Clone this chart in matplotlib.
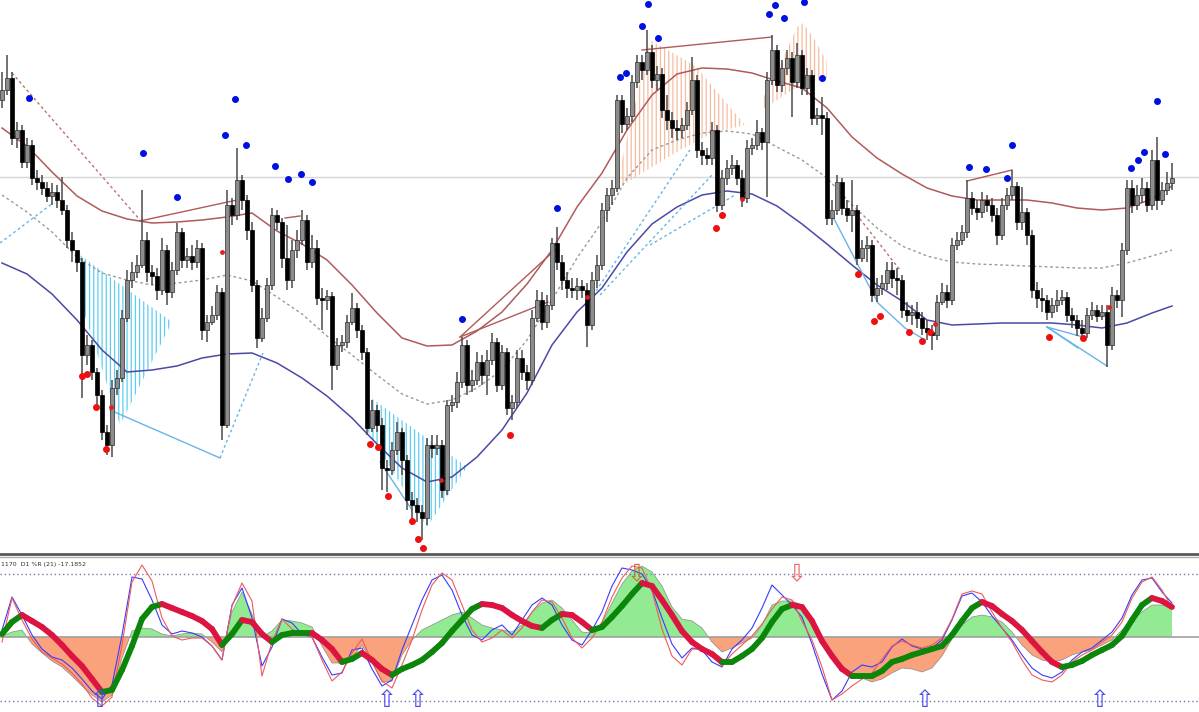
import numpy as np
import matplotlib.pyplot as plt
from matplotlib.collections import LineCollection

plt.rcParams['hatch.linewidth'] = 0.9

# ---- daily candles (price in points) ----
first_open = 500
closes = [510, 522, 462, 470, 438, 455, 422, 418, 412, 404,
          408, 400, 390, 360, 350, 338, 245, 255, 228, 205,
          168, 155, 212, 222, 282, 320, 328, 335, 360, 328,
          324, 310, 350, 308, 330, 368, 340, 344, 338, 352,
          270, 278, 285, 308, 175, 395, 385, 420, 400, 370,
          315, 262, 282, 315, 385, 378, 342, 320, 350, 360,
          380, 338, 352, 302, 300, 304, 235, 255, 258, 278,
          292, 270, 248, 172, 190, 175, 132, 130, 150, 168,
          140, 100, 95, 88, 82, 155, 152, 155, 110, 195,
          198, 218, 255, 215, 220, 238, 225, 240, 258, 215,
          248, 192, 198, 242, 228, 220, 282, 300, 278, 295,
          357, 338, 320, 312, 310, 314, 310, 275, 320, 335,
          390, 405, 412, 500, 476, 484, 518, 538, 530, 548,
          520, 526, 490, 480, 472, 470, 475, 490, 520, 450,
          445, 442, 470, 395, 422, 432, 435, 422, 402, 452,
          455, 468, 458, 520, 550, 515, 532, 542, 518, 545,
          512, 525, 482, 485, 482, 382, 390, 418, 392, 385,
          390, 342, 352, 355, 305, 312, 317, 330, 322, 320,
          290, 285, 288, 282, 272, 268, 265, 298, 308, 300,
          355, 360, 368, 402, 392, 388, 400, 395, 385, 365,
          395, 405, 414, 378, 388, 365, 310, 302, 300, 288,
          295, 300, 303, 285, 280, 272, 267, 285, 290, 284,
          288, 255, 305, 300, 350, 412, 395, 405, 412, 395,
          440, 400, 410, 417, 422]
highs = [528, 545, 528, 478, 475, 462, 460, 430, 425, 418,
         417, 415, 423, 395, 368, 350, 342, 265, 260, 232,
         210, 175, 220, 230, 290, 330, 338, 345, 410, 368,
         335, 332, 362, 355, 338, 377, 372, 352, 355, 360,
         357, 285, 294, 315, 312, 410, 402, 452, 425, 405,
         378, 320, 292, 322, 392, 390, 382, 375, 360, 370,
         390, 385, 365, 360, 312, 310, 308, 262, 265, 285,
         307, 297, 275, 252, 200, 195, 182, 140, 158, 178,
         172, 145, 108, 102, 95, 162, 165, 165, 160, 200,
         205, 228, 263, 260, 230, 248, 245, 250, 267, 262,
         255, 252, 205, 250, 250, 235, 290, 310, 308, 305,
         362, 373, 345, 328, 322, 322, 320, 317, 328, 345,
         397, 412, 420, 505, 505, 492, 525, 545, 545, 570,
         555, 534, 532, 505, 488, 480, 482, 498, 543, 525,
         458, 452, 478, 475, 430, 440, 445, 440, 430, 460,
         462, 480, 472, 528, 565, 555, 540, 550, 548, 557,
         550, 532, 530, 492, 503, 488, 400, 425, 422, 400,
         420, 395, 360, 364, 360, 322, 325, 338, 338, 332,
         325, 298, 295, 298, 288, 280, 275, 305, 317, 315,
         362, 368, 375, 420, 408, 400, 408, 405, 402, 392,
         402, 412, 430, 418, 413, 392, 370, 318, 312, 305,
         302, 310, 310, 308, 292, 285, 280, 292, 298, 295,
         295, 295, 313, 310, 357, 420, 420, 415, 422, 418,
         450, 463, 418, 428, 437]
lows = [492, 505, 455, 452, 432, 432, 415, 410, 405, 398,
        395, 392, 385, 352, 338, 328, 202, 235, 220, 195,
        160, 145, 143, 205, 218, 278, 312, 322, 332, 318,
        315, 300, 305, 295, 302, 325, 332, 332, 330, 332,
        260, 258, 275, 280, 160, 172, 375, 380, 390, 360,
        308, 252, 258, 278, 310, 370, 332, 310, 312, 342,
        355, 330, 332, 295, 270, 290, 210, 230, 248, 252,
        275, 262, 240, 165, 168, 168, 110, 108, 125, 145,
        125, 90, 75, 78, 60, 75, 142, 145, 102, 105,
        188, 192, 212, 205, 208, 215, 215, 205, 235, 208,
        210, 185, 180, 192, 220, 210, 215, 278, 270, 272,
        290, 330, 310, 302, 302, 300, 302, 253, 270, 312,
        330, 378, 395, 408, 467, 470, 478, 512, 520, 525,
        512, 510, 482, 470, 462, 460, 462, 470, 485, 442,
        435, 435, 435, 388, 390, 415, 425, 415, 393, 397,
        445, 450, 450, 403, 515, 508, 508, 525, 483, 512,
        505, 505, 475, 475, 465, 375, 375, 385, 385, 378,
        368, 335, 338, 338, 298, 298, 305, 310, 312, 305,
        282, 278, 275, 272, 265, 260, 250, 260, 295, 292,
        295, 350, 355, 362, 385, 380, 382, 388, 378, 355,
        360, 390, 400, 370, 370, 355, 302, 292, 288, 280,
        282, 288, 295, 278, 272, 264, 260, 262, 280, 278,
        280, 233, 250, 292, 283, 345, 387, 390, 397, 388,
        390, 390, 395, 405, 410]

# ---- channel (sampled every 5 bars, last bar added) ----
band_upper = [472, 454, 428, 404, 389, 381, 377, 378, 380, 383, 387, 369,
              356, 340, 315, 287, 262, 254, 255, 269, 288, 316, 350, 393,
              427, 470, 505, 526, 532, 531, 527, 519, 512, 492, 463, 442,
              426, 412, 404, 400, 400, 400, 397, 392, 390, 392, 401, 414]
band_middle = [405, 388, 368, 343, 327, 320, 315, 317, 320, 325, 319, 303,
               286, 264, 245, 225, 206, 196, 200, 212, 230, 260, 300, 342,
               378, 422, 450, 460, 467, 469, 466, 453, 440, 422, 395, 372,
               354, 344, 338, 336, 335, 334, 333, 332, 332, 337, 344, 350]
band_lower = [337, 326, 306, 280, 250, 228, 230, 234, 242, 246, 247, 237,
              222, 204, 182, 156, 132, 118, 123, 143, 170, 207, 255, 288,
              312, 348, 376, 393, 405, 409, 406, 394, 376, 356, 335, 315,
              299, 280, 275, 276, 277, 277, 277, 275, 272, 277, 287, 294]
ref_level = 423

# ---- fractal dots ----
top_dot_idx = [5.4, 28.2, 35, 44.6, 46.6, 48.8, 54.6, 57.2, 59.8, 62,
               92, 111, 123.6, 124.8, 128, 129.2, 131.2, 153.4, 154.6, 156.4,
               160.4, 164, 193.4, 196.8, 201, 202, 225.8, 227.2, 228.4, 231, 232.6]
top_dot_price = [502, 447, 403, 465, 501, 455, 434, 421, 426, 418,
                 281, 392, 523, 527, 574, 596, 562, 586, 595, 582,
                 598, 522, 433, 431, 422, 455, 432, 440, 448, 499, 446]
bot_dot_idx = [16, 17, 18.8, 20.8, 73.6, 75.2, 77.2, 82, 83.2, 84.2, 101.6,
               142.8, 144, 171.2, 174.4, 175.6, 181.4, 184, 185.6, 209.4, 216.2]
bot_dot_price = [224, 226, 193, 151, 156, 153, 104, 79, 61, 52, 165,
                 372, 385, 326, 279, 284, 268, 259, 268, 263, 262]
mark_idx = [21.8, 44, 87.8, 117, 148, 186.6, 221.4]
mark_price = [193, 348, 120, 303, 401, 276, 293]

# ---- drawn objects ----
red_lines = [[(27.6, 379), (47, 400)], [(56.6, 382), (59.6, 384)],
             [(91.6, 263), (110.6, 350)], [(91.6, 263), (109.2, 298)],
             [(128, 550), (154, 563)], [(193, 419), (202, 430)]]
red_dotted = [[(2, 527), (27.6, 380)], [(170.2, 390), (179.6, 330)]]
blue_lines = [[(21.6, 190), (43.6, 142)],
              [(166, 385), (171, 337), (175.2, 297), (180.6, 272), (184.6, 260)],
              [(209, 273), (216.2, 263)], [(209, 273), (215.2, 252)],
              [(209, 273), (221, 234)], [(75.6, 138), (82, 90)]]
blue_dotted = [[(-0.4, 357), (10.2, 397)], [(117.6, 300), (137.6, 450)],
               [(119.6, 305), (142, 425)], [(129.6, 355), (146.6, 405)],
               [(43.6, 142), (52.2, 247)]]
cyan_zones = [[(15.6, 345), (34, 278), (23.6, 175), (15.6, 300)],
              [(73, 205), (93, 133), (85, 73), (73, 170)]]
salmon_zones = [[(122.6, 410), (129.6, 560), (135.6, 543), (139, 533), (142.2, 513),
                 (145.6, 493), (148.6, 475), (142.2, 467), (135.6, 450), (129, 430)],
                [(152, 500), (155.6, 535), (159, 573), (160.2, 577), (162.6, 560),
                 (165, 538), (165, 522), (159, 513), (155.6, 502), (152, 490)]]

# ---- oscillator (every 2 bars) ----
signal_line = [3, 15, 22, 16, 10, 2, -8, -19, -29, -42,
               -55, -53, -33, -9, 18, 30, 33, 29, 25, 21,
               16, 8, -8, 3, 17, 15, 3, -5, 2, 4,
               4, 4, -3, -12, -25, -22, -16, -23, -32, -38,
               -32, -28, -23, -15, -6, 6, 17, 28, 33, 32,
               29, 22, 16, 11, 9, 17, 23, 22, 15, 7,
               10, 20, 31, 43, 54, 51, 37, 22, 6, -5,
               -12, -17, -25, -25, -19, -12, -1, 15, 28, 32,
               30, 16, -4, -19, -32, -39, -39, -39, -34, -25,
               -22, -18, -15, -12, -9, 2, 16, 29, 35, 31,
               23, 16, 7, -4, -15, -25, -30, -28, -24, -18,
               -13, -8, 1, 17, 32, 39, 36, 30]
fast_line = [7, 40, 22, 2, -12, -20, -23, -31, -42, -54,
             -62, -48, 2, 60, 58, 37, 12, 3, 6, 4,
             0, -9, -23, 32, 49, 19, -29, -10, 18, 14,
             3, 0, -20, -38, -36, -13, -11, -32, -49, -43,
             -13, 12, 37, 57, 62, 47, 22, 2, -3, 7,
             12, 2, 17, 32, 39, 32, 12, -3, -8, 7,
             25, 51, 69, 67, 63, 47, 19, -7, -21, -11,
             -13, -25, -30, -12, -3, 9, 29, 52, 42, 32,
             20, -7, -37, -63, -54, -35, -28, -30, -25, -10,
             -2, -9, -12, -11, -3, 17, 41, 44, 35, 21,
             9, -3, -18, -31, -38, -41, -35, -23, -15, -11,
             -3, 5, 19, 42, 57, 59, 45, 34]
slow_line = [-5, 39, 17, -2, -15, -21, -27, -36, -47, -61,
             -69, -60, -8, 55, 72, 56, 19, 1, -3, -1,
             -1, -9, -23, 31, 54, 36, -39, -5, 18, 8,
             3, 0, -23, -44, -35, -16, -2, -25, -44, -51,
             -28, -3, 27, 52, 64, 57, 32, 7, -5, -1,
             7, -1, 9, 25, 37, 35, 19, -1, -11, -1,
             15, 40, 59, 71, 69, 46, 8, -19, -28, -12,
             -12, -19, -29, -17, -8, 1, 13, 28, 40, 37,
             16, -3, -30, -63, -57, -49, -42, -36, -22, -9,
             -4, -8, -11, -8, -1, 18, 43, 46, 43, 25,
             9, -5, -23, -38, -43, -45, -38, -25, -18, -13,
             -5, 2, 15, 39, 55, 60, 47, 29]
hist = [1, 5, 7, -7, -16, -24, -30, -39, -49, -58,
        -65, -58, -21, 6, 9, 8, 3, 1, 3, 4,
        3, -5, -15, 25, 45, 23, 0, 6, 17, 16,
        14, 10, -9, -26, -26, -21, -8, -25, -45, -44,
        -18, -3, 7, 12, 17, 22, 25, 19, 12, 9,
        7, 5, 12, 25, 34, 37, 29, 17, 5, 4,
        14, 34, 53, 66, 71, 65, 51, 30, 18, 16,
        9, -5, -15, -11, -6, -1, 12, 32, 36, 36,
        32, 16, -3, -18, -29, -36, -41, -45, -42, -36,
        -31, -32, -35, -31, -19, -2, 12, 20, 22, 20,
        15, 5, -8, -18, -23, -25, -23, -18, -15, -13,
        -8, -3, 7, 17, 25, 32, 32, 29]
level_hi, level_lo = 63, -64
buy_arrows = [19.6, 77, 83.2, 184.6, 219.6]
sell_arrows = [127, 159]
sell_colors = ['#cc6a3a', '#f06464']

fig = plt.figure(figsize=(11.99, 7.12), dpi=100)
ax = fig.add_axes([0, 160 / 712, 1, 552 / 712])
ax2 = fig.add_axes([0, 0, 1, 155 / 712])
for a in (ax, ax2):
    a.set_xlim(-0.4, 239.4)
    a.axis('off')
ax.set_ylim(48, 600)
ax2.set_ylim(-75, 80)

# price panel
ax.axhline(ref_level, color='#d6d6d6', lw=1, zorder=0)
for zone in cyan_zones:
    zx, zy = zip(*zone)
    ax.fill(zx, zy, facecolor='none', edgecolor='#5fcdf0', hatch='||||', lw=0, zorder=1)
for zone in salmon_zones:
    zx, zy = zip(*zone)
    ax.fill(zx, zy, facecolor='none', edgecolor='#f5bca0', hatch='||||', lw=0, zorder=1)

band_idx = np.r_[np.arange(0, 231, 5), 234]
ax.plot(band_idx, band_upper, color='#b05a5a', lw=1.1, zorder=2)
ax.plot(band_idx, band_middle, color='#9a9a9a', lw=1, ls=(0, (2, 2)), zorder=2)
ax.plot(band_idx, band_lower, color='#4a4aa6', lw=1.1, zorder=2)

for ln in red_lines:
    lx, ly = zip(*ln)
    ax.plot(lx, ly, color='#b05a5a', lw=1, zorder=2)
for ln in red_dotted:
    lx, ly = zip(*ln)
    ax.plot(lx, ly, color='#c07070', lw=1, ls=(0, (2, 2)), zorder=2)
for ln in blue_lines:
    lx, ly = zip(*ln)
    ax.plot(lx, ly, color='#6ab4e6', lw=1, zorder=2)
for ln in blue_dotted:
    lx, ly = zip(*ln)
    ax.plot(lx, ly, color='#6ab4e6', lw=1, ls=(0, (2, 2)), zorder=2)

idx = np.arange(len(closes))
c = np.array(closes)
o = np.r_[first_open, c[:-1]]
h = np.maximum(np.array(highs), np.maximum(o, c))
l = np.minimum(np.array(lows), np.minimum(o, c))
ax.vlines(idx, l, h, color='#4a4a4a', lw=1.1, zorder=3)
up = c >= o
ax.bar(idx[up], (c - o)[up], bottom=o[up], width=0.72, color='#8c8c8c',
       edgecolor='#2a2a2a', lw=0.5, zorder=4)
ax.bar(idx[~up], (c - o)[~up], bottom=o[~up], width=0.72, color='black',
       edgecolor='black', lw=0.5, zorder=4)

ax.scatter(top_dot_idx, top_dot_price, s=16, color='#0010e0', zorder=5)
ax.scatter(bot_dot_idx, bot_dot_price, s=16, color='#ee1010', zorder=5)
ax.scatter(mark_idx, mark_price, s=6, color='#dd2020', zorder=5)

# oscillator panel
osc_idx = np.arange(0, 2 * len(hist), 2)
hv = np.array(hist)
ax2.fill_between(osc_idx, hv, 0, where=hv >= 0, interpolate=True, color='#92ea92', lw=0)
ax2.fill_between(osc_idx, hv, 0, where=hv <= 0, interpolate=True, color='#f9a27c', lw=0)
ax2.plot(osc_idx, hv, color='#8c8c8c', lw=0.5)
ax2.axhline(0, color='#a0a0a0', lw=1.2)
for lv in (level_hi, level_lo):
    ax2.axhline(lv, color='#7878a8', lw=1, ls=(0, (1, 2)))

ax2.plot(osc_idx, fast_line, color='#3a3aff', lw=0.8)
ax2.plot(osc_idx, slow_line, color='#f05a5a', lw=0.8)

sv = np.array(signal_line)
pts = np.column_stack([osc_idx, sv])
segs = np.stack([pts[:-1], pts[1:]], axis=1)
seg_colors = np.where(np.diff(sv) >= 0, '#0b860b', '#dc1441')
ax2.add_collection(LineCollection(segs, colors=seg_colors, linewidths=4.2,
                                  capstyle='round', zorder=4))

for bx in buy_arrows:
    ax2.text(bx, level_lo + 1, '\u21e7', color='#4a4af0', fontsize=17,
             ha='center', va='center', zorder=5)
for sx, sc in zip(sell_arrows, sell_colors):
    ax2.text(sx, level_hi + 1, '\u21e9', color=sc, fontsize=17,
             ha='center', va='center', zorder=5)

ax2.text(0.001, 0.97, '1170  D1 %R (21) -17.1852', transform=ax2.transAxes,
         fontsize=4.5, color='#333333', va='top', ha='left')

fig.add_artist(plt.Line2D([0, 1], [1 - 554 / 712] * 2, transform=fig.transFigure,
                          color='#5a5a5a', lw=2))
fig.add_artist(plt.Line2D([0, 1], [1 - 557 / 712] * 2, transform=fig.transFigure,
                          color='#b0b0b0', lw=1))

fig.savefig('out.png', dpi=100, facecolor='white')
